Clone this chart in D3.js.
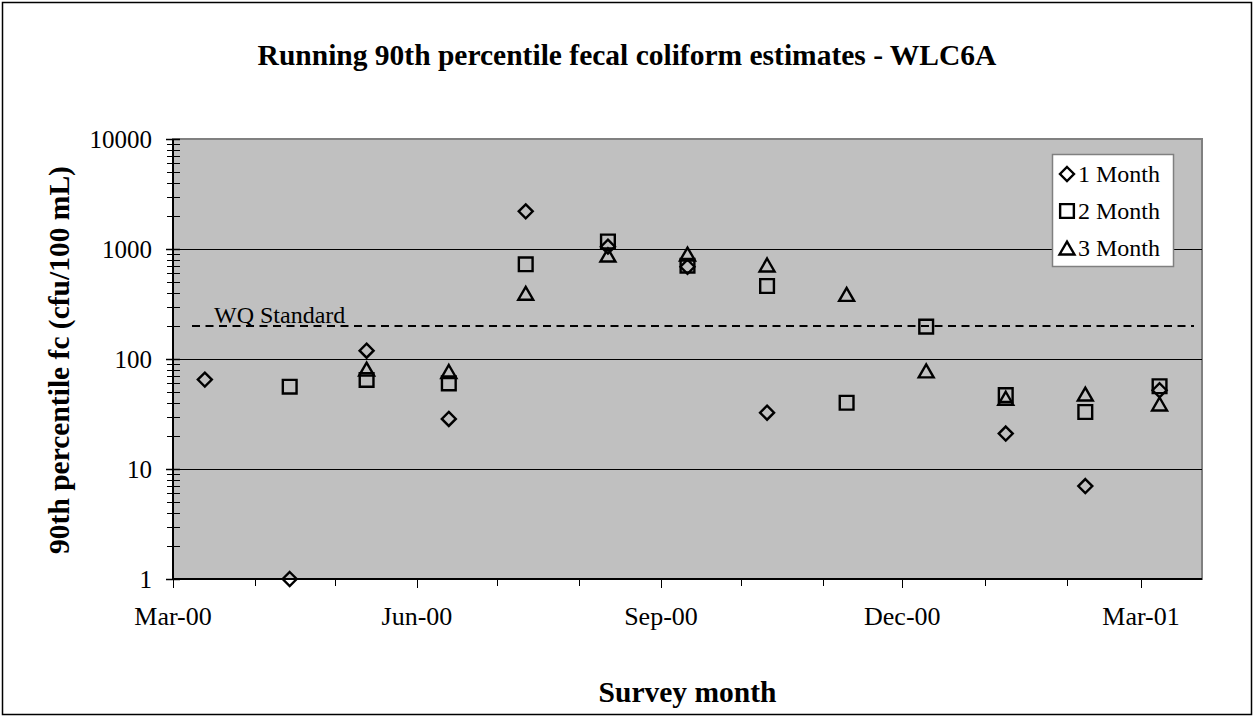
<!DOCTYPE html>
<html>
<head>
<meta charset="utf-8">
<script src="https://cdn.jsdelivr.net/npm/d3@7"></script>
<style>
  html, body { margin: 0; padding: 0; background: #fff; }
  svg { display: block; }
  text { font-family: "Liberation Serif", "Times New Roman", serif; fill: #000; }
</style>
</head>
<body>
<svg id="chart" width="1254" height="717"></svg>
<script>
// ---- data ----
const surveyDates = ["2000-03-13","2000-04-14","2000-05-13","2000-06-13","2000-07-12","2000-08-12",
                     "2000-09-11","2000-10-11","2000-11-10","2000-12-10","2001-01-09","2001-02-08","2001-03-08"];
const oneMonth   = [65, 1, 119, 28.5, 2200, 1050, 690, 32.5, null, null, 21, 7, 52];
const twoMonth   = [null, 56, 64.5, 60, 726, 1170, 705, 461, 40, 197, 47, 33, 56.5];
const threeMonth = [null, null, 81, 77, 396, 881, 900, 716, 387, 78, 44, 48, 39];
const seriesNames = ["1 Month", "2 Month", "3 Month"];
const yTickValues = [1, 10, 100, 1000, 10000];
const wqStandard = 200;
const xDomain = ["2000-03-01", "2001-03-24"];

// ---- layout ----
const W = 1254, H = 717;
const plot = { left: 173, right: 1202, top: 139, bottom: 579 };
const parse = d3.utcParse("%Y-%m-%d");

const svg = d3.select("#chart");

// outer frame
svg.append("rect").attr("x", 2.5).attr("y", 2.5).attr("width", W - 5).attr("height", H - 5)
  .attr("fill", "#fff").attr("stroke", "#000").attr("stroke-width", 1.5);

const x = d3.scaleUtc().domain(xDomain.map(parse)).range([plot.left, plot.right]);
const y = d3.scaleLog().domain([1, 10000]).range([plot.bottom, plot.top]);

// plot area
svg.append("rect").attr("x", plot.left).attr("y", plot.top)
  .attr("width", plot.right - plot.left).attr("height", plot.bottom - plot.top)
  .attr("fill", "#c0c0c0").attr("stroke", "#808080").attr("stroke-width", 2);

// gridlines
svg.append("g").selectAll("line").data(yTickValues.filter(v => v > 1 && v < 10000)).join("line")
  .attr("x1", plot.left).attr("x2", plot.right)
  .attr("y1", d => Math.round(y(d)) + 0.5).attr("y2", d => Math.round(y(d)) + 0.5)
  .attr("stroke", "#000").attr("stroke-width", 1);

// y axis
const minorY = [];
for (let p = 0; p < 4; p++) for (let m = 2; m <= 9; m++) minorY.push(m * Math.pow(10, p));
const yAxisG = svg.append("g");
yAxisG.append("line").attr("x1", plot.left).attr("x2", plot.left)
  .attr("y1", plot.top).attr("y2", plot.bottom).attr("stroke", "#000").attr("stroke-width", 2);
yAxisG.selectAll("line.minor").data(minorY).join("line").attr("class", "minor")
  .attr("x1", plot.left - 6).attr("x2", plot.left + 7)
  .attr("y1", d => Math.round(y(d)) + 0.5).attr("y2", d => Math.round(y(d)) + 0.5)
  .attr("stroke", "#000").attr("stroke-width", 1);
yAxisG.selectAll("line.major").data(yTickValues).join("line").attr("class", "major")
  .attr("x1", plot.left - 7).attr("x2", plot.left + 7)
  .attr("y1", d => Math.round(y(d)) + 0.5).attr("y2", d => Math.round(y(d)) + 0.5)
  .attr("stroke", "#000").attr("stroke-width", 1.5);
yAxisG.selectAll("text").data(yTickValues).join("text")
  .attr("x", 152).attr("y", d => y(d)).attr("dy", "0.35em")
  .attr("text-anchor", "end").style("font-size", "25px").text(d => d);

// x axis
const xAxisG = svg.append("g");
xAxisG.append("line").attr("x1", plot.left).attr("x2", plot.right)
  .attr("y1", plot.bottom).attr("y2", plot.bottom).attr("stroke", "#000").attr("stroke-width", 2);
const months = d3.utcMonth.range(parse(xDomain[0]), parse(xDomain[1]));
xAxisG.selectAll("line.tick").data(months).join("line").attr("class", "tick")
  .attr("x1", d => Math.round(x(d)) + 0.5).attr("x2", d => Math.round(x(d)) + 0.5)
  .attr("y1", plot.bottom).attr("y2", d => plot.bottom + ((d.getUTCMonth() % 3 === 2) ? 9 : 7))
  .attr("stroke", "#000").attr("stroke-width", 1);
const fmt = d3.utcFormat("%b-%y");
xAxisG.selectAll("text").data(months.filter(d => d.getUTCMonth() % 3 === 2)).join("text")
  .attr("x", d => x(d)).attr("y", 625).attr("text-anchor", "middle")
  .style("font-size", "26px").text(d => fmt(d));

// WQ standard line
svg.append("line").attr("x1", 192).attr("x2", 1194)
  .attr("y1", y(wqStandard)).attr("y2", y(wqStandard))
  .attr("stroke", "#000").attr("stroke-width", 2).attr("stroke-dasharray", "8,5.5");
svg.append("text").attr("x", 214).attr("y", y(wqStandard) - 3)
  .style("font-size", "24px").text("WQ Standard");

// markers
const sym = [
  d3.symbol().type(d3.symbolDiamond2).size(125),
  d3.symbol().type(d3.symbolSquare2).size(240),
  d3.symbol().type(d3.symbolTriangle2).size(160)
];
const triShift = Math.sqrt(160) * 0.6824 / 4;
function markerPath(i) { return sym[i](); }
const allSeries = [oneMonth, twoMonth, threeMonth];
allSeries.forEach((vals, i) => {
  const pts = vals.map((v, j) => ({ d: parse(surveyDates[j]), v })).filter(p => p.v != null);
  svg.append("g").selectAll("path").data(pts).join("path")
    .attr("transform", p => `translate(${x(p.d)},${y(p.v) + (i === 2 ? triShift : 0)})`)
    .attr("d", markerPath(i))
    .attr("fill", "none").attr("stroke", "#000").attr("stroke-width", 2.4);
});

// legend
const lg = svg.append("g");
lg.append("rect").attr("x", 1052.5).attr("y", 154.5).attr("width", 121).attr("height", 112)
  .attr("fill", "#fff").attr("stroke", "#808080").attr("stroke-width", 1.5);
seriesNames.forEach((name, i) => {
  const cy = 174 + i * 37;
  lg.append("path").attr("transform", `translate(1067,${cy + (i === 2 ? triShift : 0)})`)
    .attr("d", markerPath(i)).attr("fill", "none").attr("stroke", "#000").attr("stroke-width", 2.4);
  lg.append("text").attr("x", 1078).attr("y", cy).attr("dy", "0.35em")
    .style("font-size", "24px").text(name);
});

// titles
svg.append("text").attr("x", 627).attr("y", 65).attr("text-anchor", "middle")
  .style("font-size", "29.5px").style("font-weight", "bold")
  .text("Running 90th percentile fecal coliform estimates - WLC6A");
svg.append("text").attr("x", 687.5).attr("y", 702).attr("text-anchor", "middle")
  .style("font-size", "29.5px").style("font-weight", "bold").text("Survey month");
svg.append("text").attr("transform", "translate(59,360) rotate(-90)")
  .attr("text-anchor", "middle").attr("dy", "0.35em")
  .style("font-size", "29.5px").style("font-weight", "bold")
  .text("90th percentile fc (cfu/100 mL)");
</script>
</body>
</html>
